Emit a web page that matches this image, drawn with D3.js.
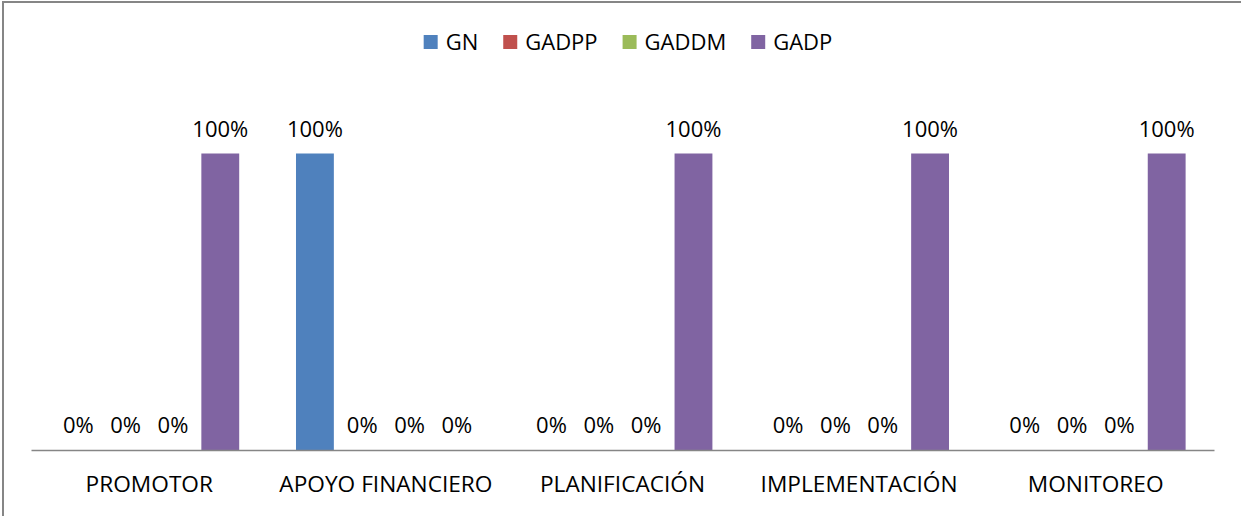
<!DOCTYPE html>
<html>
<head>
<meta charset="utf-8">
<script src="https://cdn.jsdelivr.net/npm/d3@7"></script>
<style>
  html, body { margin: 0; padding: 0; background: #fff; }
  svg { display: block; font-family: "Open Sans", sans-serif; }
</style>
</head>
<body>
<svg id="chart" width="1241" height="516"></svg>
<script>
// Categories (roles) and the share of each government level per role
const categories = ["PROMOTOR", "APOYO FINANCIERO", "PLANIFICACIÓN", "IMPLEMENTACIÓN", "MONITOREO"];
const seriesNames = ["GN", "GADPP", "GADDM", "GADP"];
const gnValues    = [0, 1, 0, 0, 0];
const gadppValues = [0, 0, 0, 0, 0];
const gaddmValues = [0, 0, 0, 0, 0];
const gadpValues  = [1, 0, 1, 1, 1];
const seriesColors = ["#4F81BD", "#C0504D", "#9BBB59", "#8064A2"];

const seriesValues = [gnValues, gadppValues, gaddmValues, gadpValues];
const rows = categories.map((c, i) => ({
  category: c,
  values: seriesNames.map((s, j) => ({ key: s, value: seriesValues[j][i], color: seriesColors[j] }))
}));

const svg = d3.select("#chart");
const fmt = d3.format(".0%");

// Chart frame
svg.append("rect")
  .attr("x", 3).attr("y", 2)
  .attr("width", 1300).attr("height", 600)
  .attr("fill", "none")
  .attr("stroke", "#868686")
  .attr("stroke-width", 2);

// Scales
const x0 = d3.scaleBand().domain(categories).range([31, 1214]).padding(0);
const x1 = d3.scaleBand().domain(seriesNames).range([0, x0.bandwidth()])
  .paddingInner(0.2).paddingOuter(0.6);
const y = d3.scaleLinear().domain([0, 1]).range([450, 153.5]);

// Bars
const groups = svg.append("g").selectAll("g")
  .data(rows).join("g")
  .attr("transform", d => `translate(${x0(d.category)},0)`);

groups.selectAll("rect")
  .data(d => d.values).join("rect")
  .attr("x", d => x1(d.key))
  .attr("y", d => y(d.value))
  .attr("width", x1.bandwidth())
  .attr("height", d => y(0) - y(d.value))
  .attr("fill", d => d.color);

// Value labels
groups.selectAll("text")
  .data(d => d.values).join("text")
  .attr("x", d => x1(d.key) + x1.bandwidth() / 2)
  .attr("y", d => y(d.value) - 17)
  .attr("text-anchor", "middle")
  .attr("font-size", 22)
  .attr("fill", "#000")
  .text(d => fmt(d.value));

// Category axis
const axis = svg.append("g")
  .attr("transform", `translate(0,${y(0)})`)
  .call(d3.axisBottom(x0).tickSize(0).tickSizeOuter(0).tickPadding(0));
axis.select(".domain").attr("stroke", "#868686").attr("stroke-width", 1.5);
axis.selectAll(".tick text")
  .attr("y", 42)
  .attr("dy", null)
  .attr("font-family", "\"Open Sans\", sans-serif")
  .attr("font-size", 21)
  .attr("fill", "#000")
  .attr("transform", "scale(1.08,1)");

// Legend
const legend = svg.append("g").attr("class", "legend");
const items = legend.selectAll("g").data(seriesNames).join("g");
items.append("rect")
  .attr("y", 35).attr("width", 14).attr("height", 14)
  .attr("fill", (d, i) => seriesColors[i]);
items.append("text")
  .attr("x", 22).attr("y", 50)
  .attr("font-size", 22)
  .attr("fill", "#000")
  .text(d => d);
let cursor = 0;
items.each(function () {
  const w = d3.select(this).select("text").node().getComputedTextLength();
  d3.select(this).attr("data-w", 22 + w);
});
const widths = [];
items.each(function () { widths.push(+d3.select(this).attr("data-w")); });
const gap = 25;
const total = d3.sum(widths) + gap * (widths.length - 1);
cursor = 628 - total / 2;
items.each(function (d, i) {
  d3.select(this).attr("transform", `translate(${cursor},0)`);
  cursor += widths[i] + gap;
});
</script>
</body>
</html>
